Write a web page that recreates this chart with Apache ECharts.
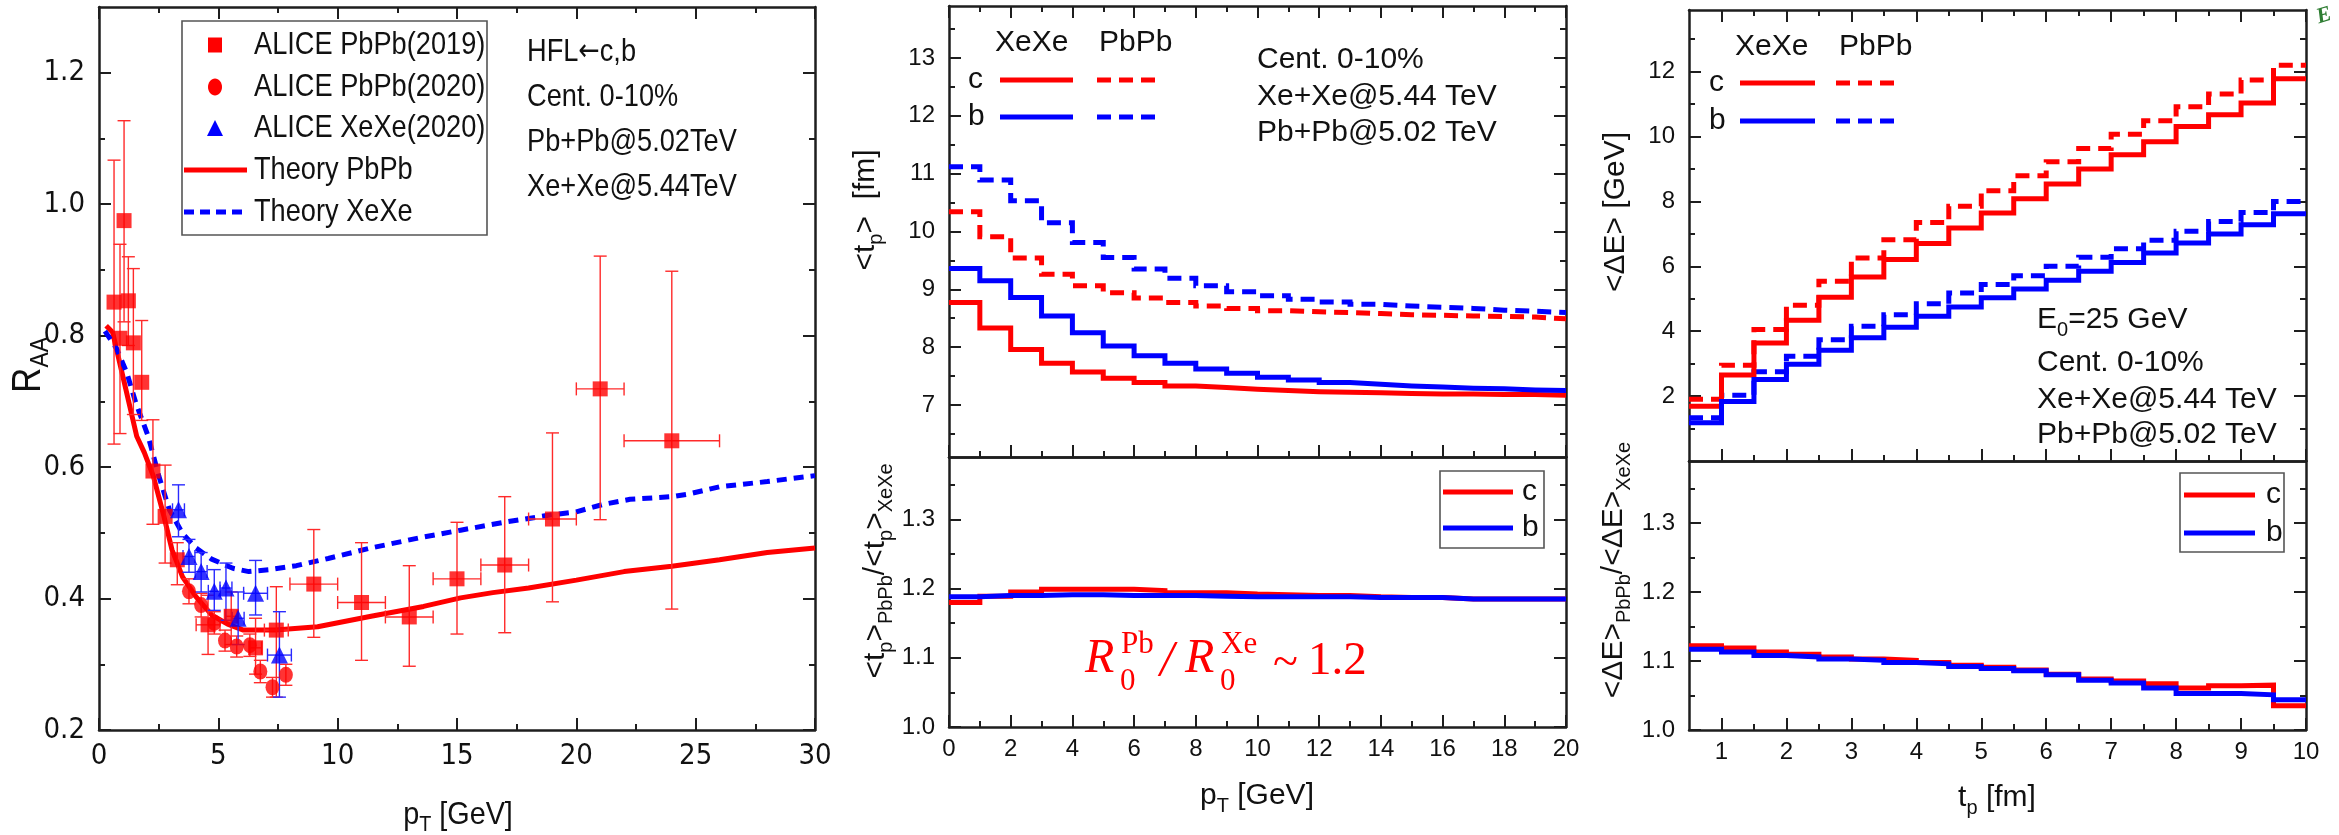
<!DOCTYPE html>
<html><head><meta charset="utf-8">
<script src="https://cdn.jsdelivr.net/npm/echarts@6/dist/echarts.min.js"></script>
<style>html,body{margin:0;padding:0;background:#fff}#c{width:2339px;height:835px}</style>
</head><body><div id="c"></div>
<script>
// ================= DATA =================
// Panel (a): R_AA vs pT
const pb19_pt   = [0.63,0.88,1.05,1.23,1.44,1.79,2.26,2.77,3.28,4.57,5.54,6.56,7.43,9,11,13,15,17,19,21,24];
const pb19_raa  = [0.851,0.796,0.975,0.853,0.789,0.729,0.594,0.525,0.459,0.360,0.373,0.325,0.352,0.422,0.394,0.372,0.430,0.451,0.521,0.719,0.640];
const pb19_xerr = [0,0,0,0,0,0,0,0,0,0.5,0.25,0.25,0.5,1,1,1,1,1,1,1,2];
const pb19_lo   = [0.635,0.651,0.821,0.785,0.680,0.671,0.513,0.454,0.421,0.315,0.330,0.285,0.250,0.341,0.306,0.297,0.346,0.348,0.395,0.520,0.384];
const pb19_hi   = [1.067,0.939,1.127,0.920,0.902,0.823,0.672,0.603,0.485,0.405,0.410,0.370,0.418,0.505,0.485,0.450,0.516,0.555,0.652,0.921,0.898];

const pb20_pt   = [3.77,4.28,4.83,5.28,5.77,6.32,6.76,7.27,7.83];
const pb20_raa  = [0.411,0.390,0.363,0.336,0.327,0.329,0.289,0.265,0.284];
const pb20_lo   = [0.392,0.372,0.346,0.320,0.311,0.312,0.272,0.250,0.268];
const pb20_hi   = [0.430,0.408,0.380,0.352,0.343,0.346,0.306,0.280,0.300];

const xe20_pt   = [3.33,3.77,4.28,4.83,5.32,5.83,6.56,7.56];
const xe20_raa  = [0.535,0.464,0.441,0.411,0.416,0.370,0.408,0.314];
const xe20_xerr = [0.25,0.25,0.25,0.25,0.25,0.25,0.5,0.5];
const xe20_lo   = [0.494,0.440,0.410,0.382,0.367,0.330,0.375,0.250];
const xe20_hi   = [0.573,0.490,0.470,0.444,0.454,0.410,0.458,0.380];

const thPb_pt   = [0.3,0.57,1.0,1.58,1.9,2.28,2.72,3.06,3.5,4.06,4.72,5.39,6.05,7.39,9.16,11.4,13.6,15.15,16.5,18,20,22,24,26,28,30];
const thPb_raa  = [0.815,0.805,0.738,0.647,0.622,0.586,0.525,0.474,0.433,0.403,0.375,0.361,0.352,0.352,0.357,0.373,0.388,0.401,0.409,0.416,0.428,0.441,0.449,0.459,0.470,0.477];
const thXe_pt   = [0.25,0.74,1.16,1.55,2.06,2.51,2.95,3.5,4.06,4.72,5.61,6.28,7.16,8.27,9.6,11.4,13.37,15.15,17.14,18.9,20,21.1,22.25,24,24.7,26,28,30];
const thXe_raa  = [0.807,0.780,0.744,0.697,0.647,0.586,0.535,0.499,0.477,0.460,0.446,0.441,0.444,0.450,0.461,0.477,0.492,0.504,0.517,0.527,0.532,0.543,0.551,0.555,0.559,0.570,0.578,0.587];

// Panel (b): <t_p> vs pT (1 GeV bins)
const ptEdges   = [0,1,2,3,4,5,6,7,8,9,10,11,12,13,14,15,16,17,18,19,20];
const tp_c_Xe   = [8.77,8.33,7.96,7.72,7.57,7.46,7.39,7.33,7.30,7.27,7.25,7.23,7.22,7.21,7.20,7.19,7.19,7.18,7.18,7.17];
const tp_b_Xe   = [9.36,9.15,8.86,8.54,8.25,8.02,7.85,7.72,7.62,7.55,7.48,7.43,7.39,7.36,7.33,7.31,7.29,7.28,7.26,7.25];
const tp_c_Pb   = [10.34,9.91,9.54,9.26,9.06,8.94,8.85,8.77,8.71,8.67,8.63,8.61,8.60,8.58,8.56,8.55,8.54,8.53,8.52,8.49];
const tp_b_Pb   = [11.12,10.89,10.53,10.15,9.81,9.55,9.35,9.19,9.06,8.96,8.89,8.83,8.78,8.74,8.71,8.69,8.67,8.64,8.62,8.60];
const tpR_c     = [1.180,1.189,1.195,1.199,1.199,1.199,1.197,1.194,1.194,1.192,1.191,1.190,1.190,1.188,1.187,1.187,1.185,1.185,1.185,1.185];
const tpR_b     = [1.188,1.190,1.190,1.191,1.191,1.190,1.190,1.190,1.189,1.188,1.188,1.188,1.188,1.187,1.187,1.187,1.185,1.185,1.185,1.185];

// Panel (c): <dE> vs t_p (0.5 fm bins)
const tpEdges   = [0.5,1,1.5,2,2.5,3,3.5,4,4.5,5,5.5,6,6.5,7,7.5,8,8.5,9,9.5,10];
const dE_c_Xe   = [1.69,2.65,3.64,4.34,5.05,5.67,6.21,6.70,7.18,7.64,8.08,8.54,9.00,9.44,9.84,10.31,10.67,11.03,11.78];
const dE_c_Pb   = [1.90,2.95,4.05,4.80,5.54,6.26,6.82,7.35,7.85,8.33,8.79,9.22,9.63,10.07,10.49,10.92,11.31,11.74,12.20];
const dE_b_Xe   = [1.18,1.83,2.51,2.98,3.41,3.80,4.12,4.46,4.75,5.03,5.30,5.57,5.85,6.12,6.41,6.72,7.00,7.28,7.62];
const dE_b_Pb   = [1.33,2.03,2.75,3.23,3.74,4.15,4.51,4.85,5.18,5.44,5.71,6.00,6.28,6.54,6.80,7.08,7.38,7.66,8.00];
const dER_c     = [1.122,1.119,1.113,1.110,1.106,1.103,1.101,1.098,1.094,1.091,1.087,1.081,1.074,1.071,1.067,1.061,1.064,1.065,1.035];
const dER_b     = [1.117,1.113,1.108,1.106,1.103,1.101,1.098,1.096,1.092,1.089,1.086,1.080,1.072,1.068,1.061,1.053,1.053,1.051,1.044];

// Tick values
const a_xMaj = [0,5,10,15,20,25,30], a_xMin = [2.5,7.5,12.5,17.5,22.5,27.5];
const a_yMaj = [0.2,0.4,0.6,0.8,1.0,1.2], a_yMin = [0.3,0.5,0.7,0.9,1.1];
const b_xMaj = [0,2,4,6,8,10,12,14,16,18,20], b_xMin = [1,3,5,7,9,11,13,15,17,19];
const b_yMaj = [7,8,9,10,11,12,13], b_yMin = [6.5,7.5,8.5,9.5,10.5,11.5,12.5,13.5];
const r_yMaj = [1.0,1.1,1.2,1.3], r_yMin = [1.05,1.15,1.25,1.35];
const c_xMaj = [1,2,3,4,5,6,7,8,9,10], c_xMin = [1.5,2.5,3.5,4.5,5.5,6.5,7.5,8.5,9.5];
const c_yMaj = [2,4,6,8,10,12], c_yMin = [1,3,5,7,9,11,13];

// ================= STYLE / LAYOUT =================
const NARROW = "'Liberation Sans Narrow','Arial Narrow','DejaVu Sans Condensed','Liberation Sans',sans-serif";
const SANS = "'Liberation Sans',Arial,Helvetica,sans-serif";
const SERIF = "'Liberation Serif','DejaVu Serif',serif";
const DEJA = "'DejaVu Sans',sans-serif";
const RED = '#ff0000', BLUE = '#0000ff', INK = '#111111', AX = '#1e1e1e';

const grids = [
  {left:99,  top:7,   width:716, height:723},
  {left:949, top:6,   width:617, height:451},
  {left:949, top:457, width:617, height:270},
  {left:1689,top:10,  width:617, height:451},
  {left:1689,top:461, width:617, height:269}
];

function axis(gi, min, max, pos, vals, len, showLine, label) {
  const a = {type:'value', gridIndex:gi, min:min, max:max, position:pos,
    axisLine:{show:showLine, onZero:false, lineStyle:{color:AX, width:2.5}},
    axisTick:{show:vals.length>0, inside:true, length:len, customValues:vals, lineStyle:{color:AX, width:2}},
    axisLabel:{show:false}, splitLine:{show:false}, minorTick:{show:false}, splitArea:{show:false}};
  if (label) a.axisLabel = Object.assign({show:true, customValues:vals}, label);
  return a;
}
const xAxes = [], yAxes = [];
function addGrid(gi, xr, xMaj, xMin, xLab, xBotTicks, xTopTicks, yr, yMaj, yMin, yLab) {
  xAxes.push(axis(gi, xr[0], xr[1], 'bottom', xBotTicks ? xMaj : [], 12, true, xLab));
  xAxes.push(axis(gi, xr[0], xr[1], 'bottom', xBotTicks ? xMin : [], 6, false, null));
  xAxes.push(axis(gi, xr[0], xr[1], 'top', xTopTicks ? xMaj : [], 12, true, null));
  xAxes.push(axis(gi, xr[0], xr[1], 'top', xTopTicks ? xMin : [], 6, false, null));
  yAxes.push(axis(gi, yr[0], yr[1], 'left', yMaj, 12, true, yLab));
  yAxes.push(axis(gi, yr[0], yr[1], 'left', yMin, 6, false, null));
  yAxes.push(axis(gi, yr[0], yr[1], 'right', yMaj, 12, true, null));
  yAxes.push(axis(gi, yr[0], yr[1], 'right', yMin, 6, false, null));
}
const labA = {fontFamily:NARROW, fontSize:29, color:INK};
const labS = {fontFamily:SANS, fontSize:24, color:INK};
const f1 = v => Number(v).toFixed(1);
const f0 = v => String(Math.round(v));
addGrid(0, [0,30], a_xMaj, a_xMin, Object.assign({margin:12, formatter:f0}, labA), true, true,
           [0.2,1.3], a_yMaj, a_yMin, Object.assign({margin:14, formatter:f1}, labA));
addGrid(1, [0,20], b_xMaj, b_xMin, null, true, true,
           [6.1,13.9], b_yMaj, b_yMin, Object.assign({margin:14, formatter:f0}, labS));
addGrid(2, [0,20], b_xMaj, b_xMin, Object.assign({margin:10, formatter:f0}, labS), true, false,
           [1.0,1.39], r_yMaj, r_yMin, Object.assign({margin:14, formatter:f1}, labS));
addGrid(3, [0.5,10], c_xMaj, c_xMin, null, true, true,
           [0,13.9], c_yMaj, c_yMin, Object.assign({margin:14, formatter:f0}, labS));
addGrid(4, [0.5,10], c_xMaj, c_xMin, Object.assign({margin:10, formatter:f0}, labS), true, false,
           [1.0,1.39], r_yMaj, r_yMin, Object.assign({margin:14, formatter:f1}, labS));

// ================= SERIES =================
const zip = (xs, ys) => xs.map((x,i) => [x, ys[i]]);
const stepData = (edges, vals) => edges.map((e,i) => [e, vals[Math.min(i, vals.length-1)]]);
function stepSeries(gi, edges, vals, color, dashed) {
  return {type:'line', xAxisIndex:4*gi, yAxisIndex:4*gi, step:'end', data:stepData(edges, vals),
    showSymbol:false, symbol:'none', silent:true, z:2,
    lineStyle:{color:color, width:5, type: dashed ? [14,8] : 'solid', cap:'butt', join:'miter'}};
}
function errSeries(xs, ys, xerr, lo, hi, color) {
  const data = xs.map((x,i) => [x, ys[i], xerr ? xerr[i] : 0, lo[i], hi[i]]);
  return {type:'custom', xAxisIndex:0, yAxisIndex:0, z:3, silent:true, data:data, encode:{x:0, y:1},
    renderItem:function(params, api){
      const x=api.value(0), y=api.value(1), xe=api.value(2), l=api.value(3), h=api.value(4);
      const pl=api.coord([x,l]), ph=api.coord([x,h]);
      const st={stroke:color, lineWidth:1.4}; const cw=6.5;
      const ch=[
        {type:'line', shape:{x1:pl[0],y1:pl[1],x2:ph[0],y2:ph[1]}, style:st},
        {type:'line', shape:{x1:pl[0]-cw,y1:pl[1],x2:pl[0]+cw,y2:pl[1]}, style:st},
        {type:'line', shape:{x1:ph[0]-cw,y1:ph[1],x2:ph[0]+cw,y2:ph[1]}, style:st}];
      if (xe > 0) {
        const a=api.coord([x-xe,y]), b=api.coord([x+xe,y]);
        ch.push({type:'line', shape:{x1:a[0],y1:a[1],x2:b[0],y2:b[1]}, style:st});
        ch.push({type:'line', shape:{x1:a[0],y1:a[1]-cw,x2:a[0],y2:a[1]+cw}, style:st});
        ch.push({type:'line', shape:{x1:b[0],y1:b[1]-cw,x2:b[0],y2:b[1]+cw}, style:st});
      }
      return {type:'group', children:ch};
    }};
}
const series = [
  {type:'line', xAxisIndex:0, yAxisIndex:0, data:zip(thPb_pt, thPb_raa), showSymbol:false, symbol:'none', z:2, silent:true,
   lineStyle:{color:RED, width:5}},
  {type:'line', xAxisIndex:0, yAxisIndex:0, data:zip(thXe_pt, thXe_raa), showSymbol:false, symbol:'none', z:2, silent:true,
   lineStyle:{color:BLUE, width:5, type:[10,7], cap:'butt'}},
  errSeries(pb19_pt, pb19_raa, pb19_xerr, pb19_lo, pb19_hi, '#ff2a2a'),
  errSeries(pb20_pt, pb20_raa, null, pb20_lo, pb20_hi, '#ff2a2a'),
  errSeries(xe20_pt, xe20_raa, xe20_xerr, xe20_lo, xe20_hi, '#2a2aff'),
  {type:'scatter', xAxisIndex:0, yAxisIndex:0, data:zip(pb19_pt, pb19_raa), symbol:'rect', symbolSize:15, z:4, silent:true, itemStyle:{color:RED}},
  {type:'scatter', xAxisIndex:0, yAxisIndex:0, data:zip(pb20_pt, pb20_raa), symbol:'circle', symbolSize:[14,16], z:4, silent:true, itemStyle:{color:RED}},
  {type:'scatter', xAxisIndex:0, yAxisIndex:0, data:zip(xe20_pt, xe20_raa), symbol:'triangle', symbolSize:17, z:4, silent:true, itemStyle:{color:BLUE}},
  stepSeries(1, ptEdges, tp_c_Pb, RED, true),
  stepSeries(1, ptEdges, tp_b_Pb, BLUE, true),
  stepSeries(1, ptEdges, tp_c_Xe, RED, false),
  stepSeries(1, ptEdges, tp_b_Xe, BLUE, false),
  stepSeries(2, ptEdges, tpR_c, RED, false),
  stepSeries(2, ptEdges, tpR_b, BLUE, false),
  stepSeries(3, tpEdges, dE_c_Pb, RED, true),
  stepSeries(3, tpEdges, dE_b_Pb, BLUE, true),
  stepSeries(3, tpEdges, dE_c_Xe, RED, false),
  stepSeries(3, tpEdges, dE_b_Xe, BLUE, false),
  stepSeries(4, tpEdges, dER_c, RED, false),
  stepSeries(4, tpEdges, dER_b, BLUE, false)
];

// ================= ANNOTATIONS =================
function T(x, y, text, font, o) {
  o = o || {};
  const st = {text:text, font:font, fill:o.fill || INK, textAlign:o.align || 'left', textVerticalAlign:o.va || 'middle'};
  if (o.rich) st.rich = o.rich;
  const el = {type:'text', x:x, y:y, rotation:o.rot || 0, z:100, silent:true, style:st};
  if (o.sx) el.scaleX = o.sx;
  return el;
}
function L(x1, y1, x2, y2, color, w, dash) {
  const st = {stroke:color, lineWidth:w};
  if (dash) st.lineDash = dash;
  return {type:'line', z:100, silent:true, shape:{x1:x1,y1:y1,x2:x2,y2:y2}, style:st};
}
function BOX(x, y, w, h) {
  return {type:'rect', z:99, silent:true, shape:{x:x,y:y,width:w,height:h}, style:{fill:'#fff', stroke:'#555', lineWidth:1.6}};
}
function subRich(fam, big, small, lh) {
  return {m:{fontFamily:fam, fontSize:big, lineHeight:lh, fill:INK},
          s:{fontFamily:fam, fontSize:small, lineHeight:small, verticalAlign:'bottom', fill:INK}};
}
const fS = s => s + "px " + SANS;
const ROT = Math.PI / 2;
const NX = 0.85;   // condensed look for panel (a) texts

const graphics = [
  // panel (a) legend
  BOX(182, 21, 305, 214),
  {type:'rect', z:100, silent:true, shape:{x:208, y:37.5, width:14, height:15}, style:{fill:RED}},
  {type:'ellipse', z:100, silent:true, shape:{cx:215, cy:87, rx:7, ry:8.5}, style:{fill:RED}},
  {type:'polygon', z:100, silent:true, shape:{points:[[215,120],[223,136],[207,136]]}, style:{fill:BLUE}},
  L(184, 170, 247, 170, RED, 5),
  L(184, 212, 247, 212, BLUE, 5, [10,6]),
  T(254, 45, 'ALICE PbPb(2019)', fS(32), {sx:NX}),
  T(254, 87, 'ALICE PbPb(2020)', fS(32), {sx:NX}),
  T(254, 128, 'ALICE XeXe(2020)', fS(32), {sx:NX}),
  T(254, 170, 'Theory PbPb', fS(32), {sx:NX}),
  T(254, 212, 'Theory XeXe', fS(32), {sx:NX}),
  T(527, 52, '{m|HFL}{a|\u2190}{m|c,b}', fS(32), {sx:NX, rich:{
      m:{fontFamily:SANS, fontSize:32, lineHeight:40, fill:INK},
      a:{fontFamily:DEJA, fontSize:30, lineHeight:40, fill:INK}}}),
  T(527, 97, 'Cent. 0-10%', fS(32), {sx:NX}),
  T(527, 142, 'Pb+Pb@5.02TeV', fS(32), {sx:NX}),
  T(527, 187, 'Xe+Xe@5.44TeV', fS(32), {sx:NX}),
  // axis titles panel (a)
  T(458, 815, '{m|p}{s|T}{m| [GeV]}', fS(32), {align:'center', sx:0.9, rich:subRich(SANS, 32, 22, 42)}),
  T(29, 365, '{m|R}{s|AA}', fS(40), {align:'center', rot:ROT, sx:0.88, rich:subRich(SANS, 40, 26, 50)}),

  // panel (b) legend & text
  T(995, 43, 'XeXe', fS(30)), T(1099, 43, 'PbPb', fS(30)),
  T(968, 80, 'c', fS(30)), T(968, 117, 'b', fS(30)),
  L(1000, 80, 1073, 80, RED, 5), L(1097, 80, 1163, 80, RED, 5, [14,8]),
  L(1000, 117, 1073, 117, BLUE, 5), L(1097, 117, 1163, 117, BLUE, 5, [14,8]),
  T(1257, 60, 'Cent. 0-10%', fS(30)),
  T(1257, 97, 'Xe+Xe@5.44 TeV', fS(30)),
  T(1257, 133, 'Pb+Pb@5.02 TeV', fS(30)),
  BOX(1440, 471, 104, 77),
  L(1443, 492, 1513, 492, RED, 5), L(1443, 528, 1513, 528, BLUE, 5),
  T(1522, 492, 'c', fS(30)), T(1522, 528, 'b', fS(30)),
  T(1257, 796, '{m|p}{s|T}{m| [GeV]}', fS(30), {align:'center', rich:subRich(SANS, 30, 20, 40)}),
  T(866, 210, '{m|<t}{s|p}{m|>  [fm]}', fS(30), {align:'center', rot:ROT, rich:subRich(SANS, 30, 20, 40)}),
  T(876, 571, '{m|<t}{s|p}{m|>}{s|PbPb}{m|/<t}{s|p}{m|>}{s|XeXe}', fS(30), {align:'center', rot:ROT, rich:subRich(SANS, 30, 20, 40)}),
  // formula  R0^Pb / R0^Xe ~ 1.2
  T(1085, 659, 'R', 'italic 48px ' + SERIF, {fill:RED}),
  T(1121, 645, 'Pb', '31px ' + SERIF, {fill:RED}),
  T(1120, 682, '0', '31px ' + SERIF, {fill:RED}),
  T(1160, 662, '/', 'italic 50px ' + SERIF, {fill:RED}),
  T(1185, 659, 'R', 'italic 48px ' + SERIF, {fill:RED}),
  T(1221, 645, 'Xe', '31px ' + SERIF, {fill:RED}),
  T(1220, 682, '0', '31px ' + SERIF, {fill:RED}),
  T(1273, 664, '~', '46px ' + SERIF, {fill:RED}),
  T(1308, 662, '1.2', '47px ' + SERIF, {fill:RED}),

  // panel (c) legend & text
  T(1735, 47, 'XeXe', fS(30)), T(1839, 47, 'PbPb', fS(30)),
  T(1709, 83, 'c', fS(30)), T(1709, 121, 'b', fS(30)),
  L(1740, 83, 1815, 83, RED, 5), L(1836, 83, 1902, 83, RED, 5, [14,8]),
  L(1740, 121, 1815, 121, BLUE, 5), L(1836, 121, 1902, 121, BLUE, 5, [14,8]),
  T(2037, 320, '{m|E}{s|0}{m|=25 GeV}', fS(30), {rich:subRich(SANS, 30, 20, 40)}),
  T(2037, 363, 'Cent. 0-10%', fS(30)),
  T(2037, 400, 'Xe+Xe@5.44 TeV', fS(30)),
  T(2037, 435, 'Pb+Pb@5.02 TeV', fS(30)),
  BOX(2180, 473, 104, 79),
  L(2184, 495, 2255, 495, RED, 5), L(2184, 533, 2255, 533, BLUE, 5),
  T(2266, 495, 'c', fS(30)), T(2266, 533, 'b', fS(30)),
  T(1997, 798, '{m|t}{s|p}{m| [fm]}', fS(30), {align:'center', rich:subRich(SANS, 30, 20, 40)}),
  T(1616, 212, '<\u0394E> [GeV]', fS(30), {align:'center', rot:ROT}),
  T(1614, 570, '{m|<\u0394E>}{s|PbPb}{m|/<\u0394E>}{s|XeXe}', fS(30), {align:'center', rot:ROT, rich:subRich(SANS, 30, 20, 40)}),
  // corner logo fragment
  T(2324, 16, 'E', 'italic bold 22px ' + SERIF, {fill:'#2e7d32', align:'center', rot:0.3})
];

const chart = echarts.init(document.getElementById('c'), null, {renderer:'canvas', width:2339, height:835});
chart.setOption({
  animation:false,
  backgroundColor:'#ffffff',
  grid: grids,
  xAxis: xAxes,
  yAxis: yAxes,
  series: series,
  graphic: {elements: graphics}
});
</script>
</body></html>
